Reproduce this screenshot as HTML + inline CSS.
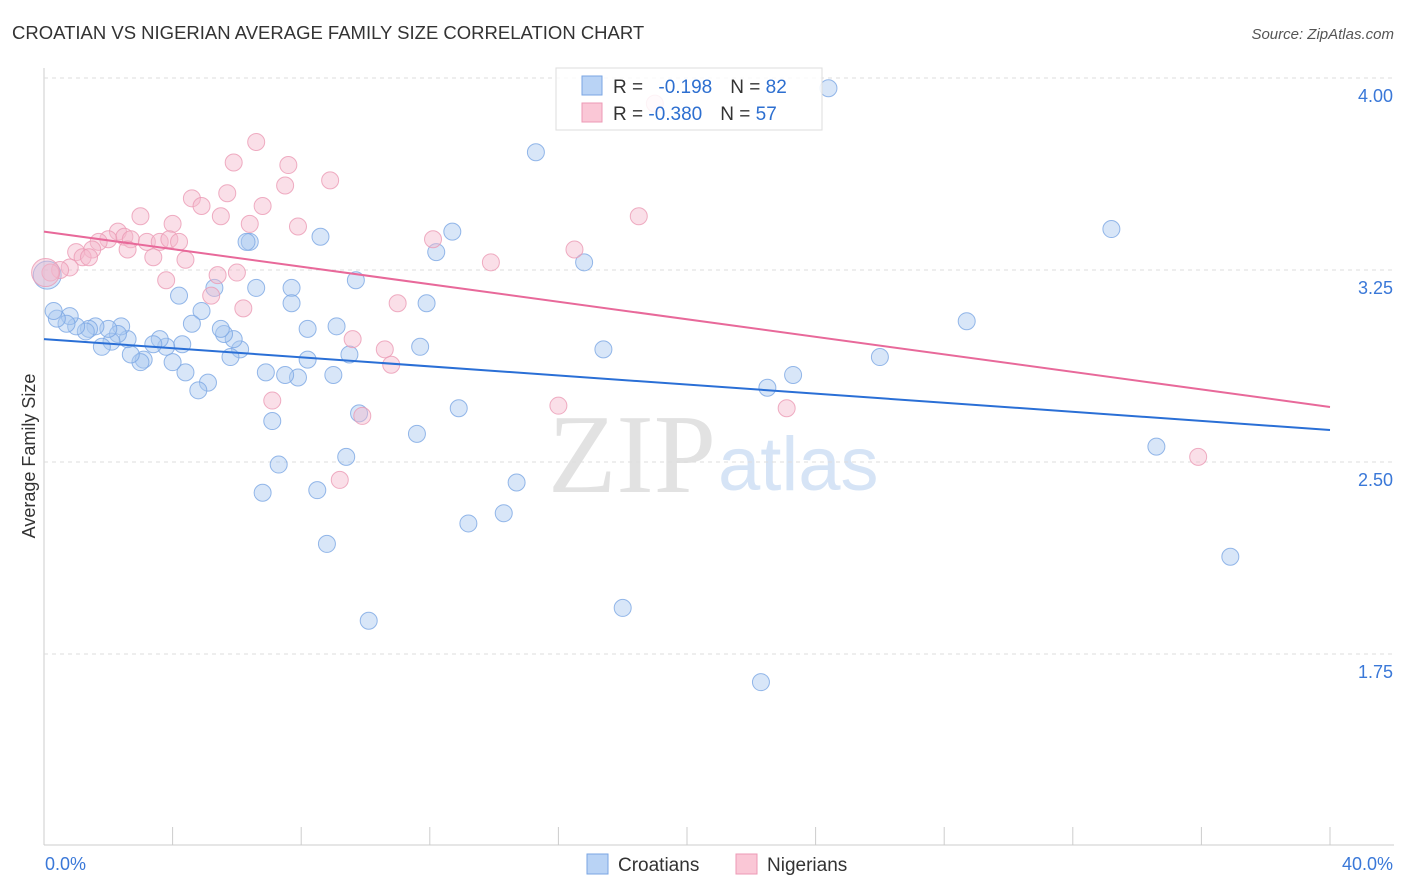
<!DOCTYPE html>
<html><head><meta charset="utf-8"><style>
body{margin:0;background:#fff;font-family:"Liberation Sans",sans-serif;}
svg{display:block}
</style></head><body>
<svg id="c" width="1406" height="892" xmlns="http://www.w3.org/2000/svg">
<text x="12" y="39" font-size="18.5" fill="#333">CROATIAN VS NIGERIAN AVERAGE FAMILY SIZE CORRELATION CHART</text>
<text x="1394" y="39" font-size="15" fill="#555" font-style="italic" text-anchor="end">Source: ZipAtlas.com</text>
<text x="716" y="492" font-size="112" fill="#e2e2e2" font-family="Liberation Serif,serif" text-anchor="end">ZIP</text>
<text x="718" y="490" font-size="76" fill="#d6e4f6">atlas</text>
<g id="grid"></g><g id="pts"></g><g id="lines"></g>
<text x="35" y="456" font-size="18" fill="#333" text-anchor="middle" transform="rotate(-90 35 456)">Average Family Size</text>
<g>
<rect x="556" y="68" width="266" height="62" fill="#fff" fill-opacity="0.85" stroke="#ddd"/>
<rect x="582" y="76" width="20" height="19" fill="#b9d3f5" stroke="#7aa6e3"/>
<rect x="582" y="103" width="20" height="19" fill="#fac7d6" stroke="#ec9ab5"/>
<text x="613" y="93" font-size="19" fill="#333">R = <tspan fill="#2d6fd0" dx="10">-0.198</tspan><tspan dx="18" fill="#333">N = </tspan><tspan fill="#2d6fd0">82</tspan></text>
<text x="613" y="120" font-size="19" fill="#333">R = <tspan fill="#2d6fd0">-0.380</tspan><tspan dx="18" fill="#333">N = </tspan><tspan fill="#2d6fd0">57</tspan></text>
</g>
<g>
<rect x="587" y="854" width="21" height="20" fill="#b9d3f5" stroke="#7aa6e3"/>
<text x="618" y="871" font-size="19" fill="#333">Croatians</text>
<rect x="736" y="854" width="21" height="20" fill="#fac7d6" stroke="#ec9ab5"/>
<text x="767" y="871" font-size="19" fill="#333">Nigerians</text>
</g>
</svg>
<script>
const yTicks=[4.00,3.25,2.50,1.75];
const xTickLabels=["0.0%","40.0%"];
const croX=[24.4,15.3,33.2,28.7,26.0,23.3,22.5,34.6,36.9,22.3,18.0,17.4,16.8,14.7,14.3,13.2,12.9,11.7,11.6,11.9,12.7,12.2,10.1,9.4,9.8,9.7,9.5,9.1,9.0,8.8,8.5,8.2,8.2,7.9,7.5,7.7,7.7,8.6,7.3,6.8,7.1,6.9,6.6,6.4,6.3,6.1,5.9,5.8,5.6,5.5,5.3,5.1,4.8,4.9,4.6,4.4,4.3,4.2,4.0,3.8,3.6,3.4,3.1,3.0,2.7,2.6,2.4,2.3,2.1,2.0,1.8,1.6,1.4,1.3,1.0,0.8,0.7,0.4,0.3,0.1];
const croY=[3.96,3.71,3.41,3.05,2.91,2.84,2.79,2.56,2.13,1.64,1.93,2.94,3.28,2.42,2.30,2.26,2.71,2.95,2.61,3.12,3.40,3.32,1.88,2.52,2.69,3.21,2.92,3.03,2.84,2.18,2.39,3.02,2.90,2.83,2.84,3.18,3.12,3.38,2.49,2.38,2.66,2.85,3.18,3.36,3.36,2.94,2.98,2.91,3.00,3.02,3.18,2.81,2.78,3.09,3.04,2.85,2.96,3.15,2.89,2.95,2.98,2.96,2.90,2.89,2.92,2.98,3.03,3.00,2.97,3.02,2.95,3.03,3.02,3.01,3.03,3.07,3.04,3.06,3.09,3.23];
const nigX=[19.0,6.6,5.9,7.6,8.9,7.5,5.7,4.6,4.9,6.8,5.5,3.0,4.0,6.4,7.9,2.3,2.5,2.0,2.7,3.2,3.6,3.9,4.2,1.7,1.5,1.0,2.6,1.2,1.4,3.4,4.4,12.1,13.9,16.5,18.5,5.4,6.0,3.8,0.8,0.5,0.2,5.2,6.2,11.0,9.6,10.6,10.8,7.1,9.9,9.2,16.0,23.1,35.9,0.05];
const nigY=[3.90,3.75,3.67,3.66,3.60,3.58,3.55,3.53,3.50,3.50,3.46,3.46,3.43,3.43,3.42,3.40,3.38,3.37,3.37,3.36,3.36,3.37,3.36,3.36,3.33,3.32,3.33,3.30,3.30,3.30,3.29,3.37,3.28,3.33,3.46,3.23,3.24,3.21,3.26,3.25,3.24,3.15,3.10,3.12,2.98,2.94,2.88,2.74,2.68,2.43,2.72,2.71,2.52,3.24];
const croTrend=[2.98,2.625];
const nigTrend=[3.40,2.715];
const NS="http://www.w3.org/2000/svg";
const X=v=>44+v*32.15, Y=v=>78+(4-v)*256;
function mk(t,a,p){const e=document.createElementNS(NS,t);for(const k in a)e.setAttribute(k,a[k]);p.appendChild(e);return e;}
const g=document.getElementById('grid');
mk('line',{x1:44,y1:845,x2:1394,y2:845,stroke:'#ccc'},g);
mk('line',{x1:44,y1:68,x2:44,y2:845,stroke:'#ccc'},g);
for(let i=0;i<=10;i++){const l=mk('line',{x1:X(i*4),y1:827,x2:X(i*4),y2:845,stroke:'#ccc'},g);

}
yTicks.forEach(t=>{const l=mk('line',{x1:44,y1:Y(t),x2:1394,y2:Y(t),stroke:'#ddd','stroke-dasharray':'4,4'},g);


const tx=mk('text',{x:1393,y:Y(t)+24,'font-size':18,fill:'#3a78d8','text-anchor':'end'},g);tx.textContent=t.toFixed(2);

});
xTickLabels.forEach((s,i)=>{const tx=mk('text',{x:i?1393:45,y:870,'font-size':18,fill:'#3a78d8','text-anchor':i?'end':'start'},g);tx.textContent=s;

});
const p=document.getElementById('pts');
function pts(xs,ys,f,s,name){xs.forEach((x,i)=>{const big=x<0.2;const c=mk('circle',{cx:X(x),cy:Y(ys[i]),r:big?14:8.5,fill:f,'fill-opacity':0.45,stroke:s,'stroke-opacity':0.8,'stroke-width':1},p);

});}
pts(croX,croY,'#a9c8f0','#7aa6e3','croatian-point');
pts(nigX,nigY,'#f5b8cb','#eb9ab4','nigerian-point');
const L=document.getElementById('lines');
const a=mk('line',{x1:X(0),y1:Y(croTrend[0]),x2:X(40),y2:Y(croTrend[1]),stroke:'#2a6fd6','stroke-width':2},L);


const b=mk('line',{x1:X(0),y1:Y(nigTrend[0]),x2:X(40),y2:Y(nigTrend[1]),stroke:'#e8699a','stroke-width':2},L);


</script>
</body></html>
